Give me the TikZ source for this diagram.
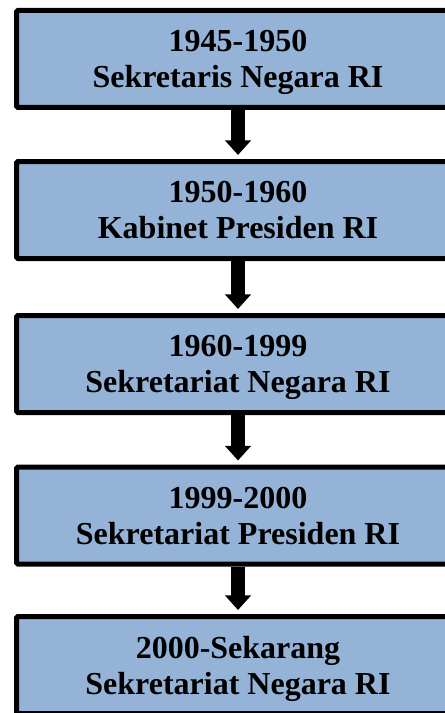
\documentclass[tikz,border=0pt]{standalone}
\usepackage{fontspec}
\setmainfont{Liberation Serif}
\usetikzlibrary{arrows.meta}
\definecolor{boxblue}{RGB}{149,179,215}
\begin{document}
\begin{tikzpicture}
        [x=0.75pt,y=-0.75pt,
        period/.style={draw=black, line width=3.75pt, fill=boxblue, rounded corners=1pt,
            minimum width=332pt, minimum height=72.75pt, inner sep=0pt, text depth=0pt,
            align=center, font=\bfseries\fontsize{24}{27}\selectfont},
        next/.style={line width=10.5pt, {Triangle[width=19pt,length=11pt]}-, shorten <=3pt}]
        \useasboundingbox (0,0) rectangle (444,713);
        \node[period] (p1) at (238,59) {1945-1950\\Sekretaris Negara RI};
        \node[period] (p2) at (238,210) {1950-1960\\Kabinet Presiden RI}
            edge[next] (p1);
        \node[period] (p3) at (238,364) {1960-1999\\Sekretariat Negara RI}
            edge[next] (p2);
        \node[period] (p4) at (238,515.5) {1999-2000\\Sekretariat Presiden RI}
            edge[next] (p3);
        \node[period] (p5) at (238,665) {2000-Sekarang\\Sekretariat Negara RI}
            edge[next] (p4);
    \end{tikzpicture}
\end{document}
